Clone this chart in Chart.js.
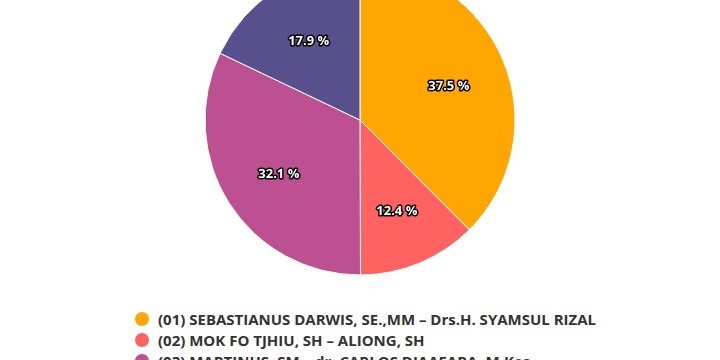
<!DOCTYPE html>
<html>
<head>
<meta charset="utf-8">
<script src="https://cdn.jsdelivr.net/npm/chart.js@4"></script>
<style>
  html, body { margin: 0; padding: 0; background: #fff; }
  body { width: 720px; height: 360px; overflow: hidden; position: relative; font-family: "Open Sans", sans-serif; }
  #wrap { position: absolute; left: 0; top: -35px; width: 720px; height: 310px; }
  #legenda { position: absolute; left: 135px; top: 308px; }
  .item { display: flex; align-items: center; height: 21px; font-size: 15px; font-weight: bold; color: #333; white-space: nowrap; }
  .item span.bola { width: 14px; height: 14px; border-radius: 50%; margin-right: 9px; flex: none; }
</style>
</head>
<body>
<div id="wrap"><canvas id="grafico" width="720" height="310"></canvas></div>
<div id="legenda"></div>
<script>
// dados
const pasangan = [
  '(01) SEBASTIANUS DARWIS, SE.,MM – Drs.H. SYAMSUL RIZAL',
  '(02) MOK FO TJHIU, SH – ALIONG, SH',
  '(03) MARTINUS, SM – dr. CARLOS DJAAFARA, M.Kes',
  '(04) PASANGAN CALON 04'
];
const persen = [37.5, 12.4, 32.1, 17.9];
const warna = ['#ffa600', '#ff6361', '#bc5090', '#58508d'];

// rotulos de porcentagem dentro das fatias
const rotuloFatias = {
  id: 'rotuloFatias',
  afterDatasetsDraw(chart) {
    const ctx = chart.ctx;
    const meta = chart.getDatasetMeta(0);
    ctx.save();
    ctx.font = 'bold 13px "Open Sans", sans-serif';
    ctx.textAlign = 'center';
    ctx.textBaseline = 'middle';
    ctx.lineJoin = 'round';
    meta.data.forEach((arc, i) => {
      const p = arc.getProps(['x', 'y', 'startAngle', 'endAngle', 'outerRadius'], true);
      const meio = (p.startAngle + p.endAngle) / 2;
      const r = p.outerRadius * 0.62;
      const x = p.x + Math.cos(meio) * r;
      const y = p.y + Math.sin(meio) * r + 3;
      const txt = chart.data.datasets[0].data[i].toFixed(1) + ' %';
      ctx.lineWidth = 3;
      ctx.strokeStyle = '#000';
      ctx.strokeText(txt, x, y);
      ctx.fillStyle = '#fff';
      ctx.fillText(txt, x, y);
    });
    ctx.restore();
  }
};

const grafico = new Chart(document.getElementById('grafico'), {
  type: 'pie',
  data: {
    labels: pasangan,
    datasets: [{
      data: persen,
      backgroundColor: warna,
      borderColor: '#fff',
      borderWidth: 1,
      hoverOffset: 0
    }]
  },
  options: {
    responsive: false,
    animation: false,
    radius: 155,
    layout: { padding: 0 },
    plugins: {
      legend: { display: false },
      tooltip: { enabled: false }
    }
  },
  plugins: [rotuloFatias]
});

// legenda em html
const legenda = document.getElementById('legenda');
grafico.options.plugins.legend.labels.generateLabels(grafico).forEach(it => {
  const linha = document.createElement('div');
  linha.className = 'item';
  const bola = document.createElement('span');
  bola.className = 'bola';
  bola.style.background = it.fillStyle;
  const texto = document.createElement('span');
  texto.textContent = it.text;
  linha.appendChild(bola);
  linha.appendChild(texto);
  legenda.appendChild(linha);
});
</script>
</body>
</html>
